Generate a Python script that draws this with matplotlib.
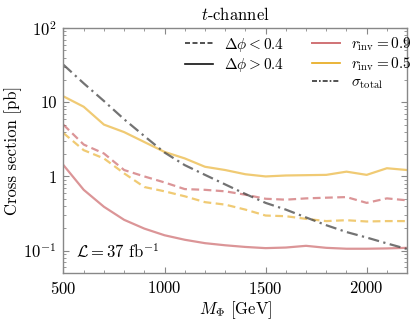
import matplotlib
matplotlib.use("Agg")
import matplotlib.pyplot as plt
import numpy as np
from matplotlib.ticker import MultipleLocator, FixedLocator, FixedFormatter, LogLocator, NullFormatter
from matplotlib.lines import Line2D

plt.rcParams['font.family'] = 'serif'
plt.rcParams['font.serif'] = ['cmr10']
plt.rcParams['mathtext.fontset'] = 'cm'
plt.rcParams['axes.unicode_minus'] = False
plt.rcParams['axes.formatter.use_mathtext'] = True

# masses in GeV
mass = [500, 600, 700, 800, 900, 1000, 1100, 1200, 1300, 1400,
        1500, 1600, 1700, 1800, 1900, 2000, 2100, 2200]

# cross sections in pb
sigma_total = [32, 18, 10.4, 5.9, 3.5, 2.1, 1.42, 1.05, 0.78, 0.58,
               0.44, 0.357, 0.28, 0.22, 0.178, 0.15, 0.125, 0.105]
r09_low = [4.97, 2.69, 2.04, 1.22, 1.0, 0.83, 0.675, 0.66, 0.63, 0.567,
           0.50, 0.486, 0.506, 0.517, 0.527, 0.44, 0.506, 0.476]
r09_high = [1.42, 0.66, 0.39, 0.26, 0.198, 0.161, 0.14, 0.126, 0.118, 0.112,
            0.108, 0.11, 0.116, 0.109, 0.106, 0.106, 0.107, 0.109]
r05_low = [3.84, 2.26, 1.75, 1.1, 0.72, 0.63, 0.54, 0.45, 0.417, 0.357,
           0.297, 0.291, 0.268, 0.25, 0.257, 0.247, 0.25, 0.25]
r05_high = [12.0, 8.7, 5.0, 3.96, 2.91, 2.14, 1.75, 1.35, 1.22, 1.07,
            1.0, 1.03, 1.04, 1.05, 1.16, 1.05, 1.29, 1.22]

red = '#c44e52'
yellow = '#e6a817'
spine_col = '#888888'

fig = plt.figure(figsize=(4.15, 3.23), dpi=100)
ax = fig.add_axes([0.153, 0.155, 0.828, 0.758])

ax.plot(mass, r09_low, color=red, alpha=0.6, lw=1.6, ls=(0, (3.5, 2)))
ax.plot(mass, r09_high, color=red, alpha=0.6, lw=1.6)
ax.plot(mass, r05_low, color=yellow, alpha=0.6, lw=1.6, ls=(0, (3.5, 2)))
ax.plot(mass, r05_high, color=yellow, alpha=0.6, lw=1.6)
ax.plot(mass, sigma_total, color='#444444', alpha=0.75, lw=1.6, ls=(0, (5, 2, 1, 2)))

ax.set_yscale('log')
ax.set_xlim(500, 2200)
ax.set_ylim(0.05, 100)

ax.xaxis.set_major_locator(MultipleLocator(500))
ax.xaxis.set_minor_locator(MultipleLocator(100))
ax.yaxis.set_major_locator(FixedLocator([0.1, 1, 10, 100]))
ax.yaxis.set_major_formatter(FixedFormatter([r'$10^{-1}$', '1', '10', r'$10^{2}$']))
ax.yaxis.set_minor_locator(LogLocator(base=10, subs=np.arange(2, 10), numticks=20))
ax.yaxis.set_minor_formatter(NullFormatter())

ax.tick_params(which='both', direction='in', top=True, right=True, color=spine_col,
               labelsize=12, pad=5)
ax.tick_params(which='major', length=4)
ax.tick_params(which='minor', length=2)
for s in ax.spines.values():
    s.set_color(spine_col)
    s.set_linewidth(1.0)

ax.set_xlabel(r'$M_\Phi$ [GeV]', fontsize=12, labelpad=2)
ax.set_ylabel('Cross section [pb]', fontsize=12, labelpad=1)
ax.set_title(r'$t$-channel', fontsize=12, pad=6)

ax.text(0.035, 0.05, r'$\mathcal{L} = 37$ fb$^{-1}$', transform=ax.transAxes,
        fontsize=12, ha='left', va='bottom')

handles = [
    Line2D([], [], color='#333333', lw=1.2, ls=(0, (3, 1.5))),
    Line2D([], [], color='#111111', lw=1.2),
    Line2D([], [], color='none'),
    Line2D([], [], color=red, alpha=0.8, lw=1.4),
    Line2D([], [], color=yellow, lw=1.2),
    Line2D([], [], color='#333333', lw=1.2, ls=(0, (3, 1.2, 1, 1.2))),
]
labels = [r'$\Delta\phi < 0.4$', r'$\Delta\phi > 0.4$', '',
          r'$r_{\rm inv} = 0.9$', r'$r_{\rm inv} = 0.5$', r'$\sigma_{\rm total}$']
ax.legend(handles, labels, ncol=2, frameon=False, loc='upper right',
          bbox_to_anchor=(1.035, 1.0),
          fontsize=11, handlelength=1.85, handletextpad=0.7, columnspacing=1.85,
          labelspacing=0.15, borderpad=0.3, borderaxespad=0.2)

fig.savefig('out.png', dpi=100)
